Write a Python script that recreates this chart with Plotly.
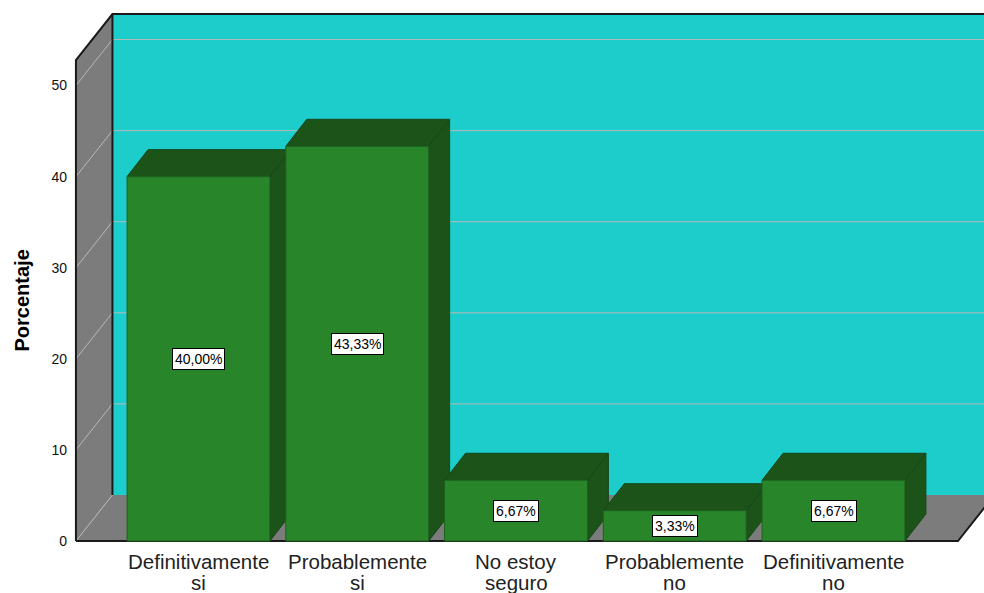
import plotly.graph_objects as go

# ---- data -------------------------------------------------------------
cat_line1 = ["Definitivamente", "Probablemente", "No estoy", "Probablemente", "Definitivamente"]
cat_line2 = ["si", "si", "seguro", "no", "no"]
percentages = [40.00, 43.33, 6.67, 3.33, 6.67]
y_ticks = [0, 10, 20, 30, 40, 50]

# ---- pseudo-3D geometry (axis units) ---------------------------------
WALL_DX, WALL_DY = 0.23, 5.05      # depth offset of the chart box
BAR_DX, BAR_DY = 0.132, 2.96       # depth offset of each bar
BAR_W = 0.9
WALL_TOP = 52.8                    # height of the box at the front plane
X_LEFT, X_RIGHT = -0.772, 4.784    # front edges of floor / left wall
X_RANGE = [-0.8094, 4.948]
Y_RANGE = [-0.659, 58.29]

# ---- colours ---------------------------------------------------------
CYAN = "#1ccdcc"
GRAY = "#7c7c7c"
GRID = "#b8b8b8"
GREEN = "#29852a"
GREEN_DARK = "#1b5318"
GREEN_EDGE = "#1f5f1f"
EDGE = "#1a1a1a"


def path(points, close=True):
    s = "M " + " L ".join(f"{x},{y}" for x, y in points)
    return s + (" Z" if close else "")


shapes = []

# back wall
shapes.append(dict(type="path", xref="x", yref="y", layer="below",
                   path=path([(X_LEFT + WALL_DX, WALL_DY), (X_RANGE[1] + 1, WALL_DY),
                              (X_RANGE[1] + 1, WALL_TOP + WALL_DY), (X_LEFT + WALL_DX, WALL_TOP + WALL_DY)]),
                   fillcolor=CYAN, line=dict(width=0)))
# floor
shapes.append(dict(type="path", xref="x", yref="y", layer="below",
                   path=path([(X_LEFT, 0), (X_RIGHT, 0), (X_RIGHT + WALL_DX, WALL_DY),
                              (X_LEFT + WALL_DX, WALL_DY)]),
                   fillcolor=GRAY, line=dict(width=0)))
# left wall
shapes.append(dict(type="path", xref="x", yref="y", layer="below",
                   path=path([(X_LEFT, 0), (X_LEFT + WALL_DX, WALL_DY),
                              (X_LEFT + WALL_DX, WALL_TOP + WALL_DY), (X_LEFT, WALL_TOP)]),
                   fillcolor=GRAY, line=dict(width=0)))

# grid lines on left wall and back wall
for t in y_ticks:
    shapes.append(dict(type="line", xref="x", yref="y", layer="below",
                       x0=X_LEFT, y0=t, x1=X_LEFT + WALL_DX, y1=t + WALL_DY,
                       line=dict(color=GRID, width=1)))
    if t > 0:
        shapes.append(dict(type="line", xref="x", yref="y", layer="below",
                           x0=X_LEFT + WALL_DX, y0=t + WALL_DY, x1=X_RANGE[1] + 1, y1=t + WALL_DY,
                           line=dict(color=GRID, width=1)))

# box outlines
outline = [
    [(X_LEFT, 0), (X_LEFT, WALL_TOP), (X_LEFT + WALL_DX, WALL_TOP + WALL_DY),
     (X_RANGE[1] + 1, WALL_TOP + WALL_DY)],
    [(X_LEFT + WALL_DX, WALL_DY), (X_LEFT + WALL_DX, WALL_TOP + WALL_DY)],
    [(X_LEFT, 0), (X_RIGHT, 0), (X_RIGHT + WALL_DX, WALL_DY)],
]
for pts in outline:
    shapes.append(dict(type="path", xref="x", yref="y", layer="below",
                       path=path(pts, close=False), line=dict(color=EDGE, width=2)))

# top and side faces of each bar
for i, v in enumerate(percentages):
    x0, x1 = i - BAR_W / 2, i + BAR_W / 2
    shapes.append(dict(type="path", xref="x", yref="y", layer="below",
                       path=path([(x1, 0), (x1 + BAR_DX, BAR_DY), (x1 + BAR_DX, v + BAR_DY), (x1, v)]),
                       fillcolor=GREEN_DARK, line=dict(color="#17461a", width=1)))
    shapes.append(dict(type="path", xref="x", yref="y", layer="below",
                       path=path([(x0, v), (x1, v), (x1 + BAR_DX, v + BAR_DY), (x0 + BAR_DX, v + BAR_DY)]),
                       fillcolor=GREEN_DARK, line=dict(color="#17461a", width=1)))

fig = go.Figure()
fig.add_trace(go.Bar(
    x=list(range(len(percentages))), y=percentages, width=BAR_W,
    marker=dict(color=GREEN, line=dict(color=GREEN_EDGE, width=1)),
    hoverinfo="skip", showlegend=False,
))

annotations = []
for i, v in enumerate(percentages):
    annotations.append(dict(
        x=i, y=v / 2, xref="x", yref="y", showarrow=False,
        text=f"{v:.2f}".replace(".", ",") + "%",
        font=dict(family="Liberation Sans, Arial", size=14, color="#000000"),
        bgcolor="#ffffff", bordercolor="#000000", borderwidth=1, borderpad=2,
    ))
    for line_text, shift in ((cat_line1[i], -20), (cat_line2[i], -41)):
        annotations.append(dict(
            x=i, y=0, xref="x", yref="y", showarrow=False, yanchor="middle",
            yshift=shift, text=line_text,
            font=dict(family="Liberation Sans, Arial", size=20.5, color="#222222"),
        ))

annotations.append(dict(
    x=0, y=0.5, xref="paper", yref="paper", xanchor="center", yanchor="middle",
    xshift=-49, yshift=-22, showarrow=False, textangle=-90, text="<b>Porcentaje</b>",
    font=dict(family="Liberation Sans, Arial", size=20, color="#000000"),
))

fig.update_layout(
    width=984, height=593,
    margin=dict(l=70, r=0, t=10, b=46),
    paper_bgcolor="#ffffff", plot_bgcolor="#ffffff",
    shapes=shapes, annotations=annotations,
    bargap=0.1,
    xaxis=dict(range=X_RANGE, showgrid=False, zeroline=False, showticklabels=False,
               showline=False, fixedrange=True),
    yaxis=dict(range=Y_RANGE, tickvals=y_ticks, showgrid=False, zeroline=False,
               showline=False, ticks="", ticklabelstandoff=2,
               tickfont=dict(family="Liberation Sans, Arial", size=14, color="#111111"),
               fixedrange=True),
)

fig.write_html("out.html")
